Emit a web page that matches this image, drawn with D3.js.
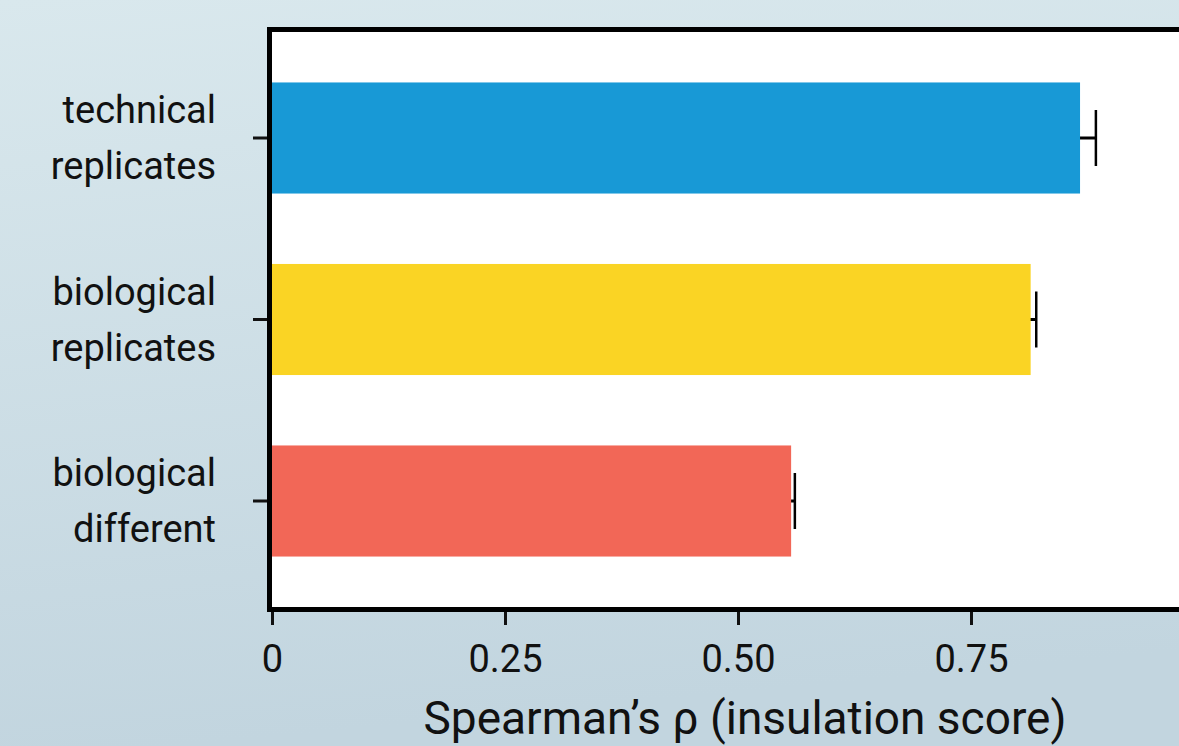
<!DOCTYPE html>
<html>
<head>
<meta charset="utf-8">
<script src="https://cdn.jsdelivr.net/npm/d3@7"></script>
<style>
  html, body { margin: 0; padding: 0; overflow: hidden; }
  svg { display: block; font-family: Roboto, "Noto Sans", sans-serif; }
</style>
</head>
<body>
<svg id="chart" width="1179" height="746"></svg>
<script>
// Correlation of insulation scores between sample pairs
const categories = [
  ["technical", "replicates"],
  ["biological", "replicates"],
  ["biological", "different"]
];
const means = [0.867, 0.814, 0.557];
const errors = [0.017, 0.006, 0.004];
const barColors = ["#1899d6", "#fad424", "#f26757"];
const tickValues = [0, 0.25, 0.5, 0.75, 1];
const tickLabels = ["0", "0.25", "0.50", "0.75", "1"];
const axisTitle = "Spearman\u2019s \u03c1 (insulation score)";

const W = 1179, H = 746;
const svg = d3.select("#chart");

// page background
const defs = svg.append("defs");
const grad = defs.append("linearGradient")
  .attr("id", "bg").attr("x1", 0).attr("y1", 0).attr("x2", 0.15).attr("y2", 1);
grad.append("stop").attr("offset", "0%").attr("stop-color", "#d9e8ed");
grad.append("stop").attr("offset", "100%").attr("stop-color", "#c2d5df");
svg.append("rect").attr("width", W).attr("height", H).attr("fill", "url(#bg)");

const plot = { left: 272, top: 32, bottom: 607 };
const x = d3.scaleLinear().domain([0, 1]).range([plot.left, 1204]);
const keys = categories.map(c => c.join(" "));
const y = d3.scaleBand().domain(keys).range([plot.top, plot.bottom])
  .paddingInner(0.388).paddingOuter(0.278);

// plotting panel
svg.append("rect")
  .attr("x", plot.left - 2.5).attr("y", plot.top - 2.5)
  .attr("width", 1300).attr("height", plot.bottom - plot.top + 5)
  .attr("fill", "#fff").attr("stroke", "#000").attr("stroke-width", 5);

const rows = means.map((m, i) => ({ key: keys[i], m, e: errors[i], c: barColors[i] }));

// error bars (drawn under the bars)
const eb = svg.append("g");
rows.forEach(d => {
  const cy = y(d.key) + y.bandwidth() / 2;
  eb.append("line")
    .attr("x1", x(d.m - d.e)).attr("x2", x(d.m + d.e))
    .attr("y1", cy).attr("y2", cy)
    .attr("stroke", "#000").attr("stroke-width", 3);
  [d.m - d.e, d.m + d.e].forEach(v => {
    eb.append("line")
      .attr("x1", x(v)).attr("x2", x(v))
      .attr("y1", cy - 28).attr("y2", cy + 28)
      .attr("stroke", "#000").attr("stroke-width", 2.5);
  });
});

// bars
svg.append("g").selectAll("rect").data(rows).join("rect")
  .attr("x", x(0))
  .attr("y", d => y(d.key))
  .attr("width", d => x(d.m) - x(0))
  .attr("height", y.bandwidth())
  .attr("fill", d => d.c);

// x axis
const xAxis = d3.axisBottom(x).tickValues(tickValues)
  .tickFormat((d, i) => tickLabels[i]).tickSize(13).tickPadding(20);
const gx = svg.append("g").attr("transform", `translate(0,${plot.bottom + 5})`).call(xAxis);
gx.select(".domain").remove();
gx.selectAll(".tick line").attr("stroke", "#111").attr("stroke-width", 3);
gx.selectAll(".tick text").attr("fill", "#111").style("font-size", "38px")
  .style("font-family", "Roboto");

// y axis
const yAxis = d3.axisLeft(y).tickSize(14).tickFormat("");
const gy = svg.append("g").attr("transform", `translate(${plot.left - 5},0)`).call(yAxis);
gy.select(".domain").remove();
gy.selectAll(".tick line").attr("stroke", "#111").attr("stroke-width", 3);

// category labels
const lab = svg.append("g");
categories.forEach((lines, i) => {
  const cy = y(keys[i]) + y.bandwidth() / 2;
  const t = lab.append("text")
    .attr("text-anchor", "end")
    .attr("fill", "#111")
    .style("font-size", "38px");
  lines.forEach((s, j) => {
    t.append("tspan").attr("x", 216).attr("y", cy + (j === 0 ? -15 : 41)).text(s);
  });
});

// axis title
svg.append("text")
  .attr("x", 745).attr("y", 734)
  .attr("text-anchor", "middle")
  .attr("fill", "#111")
  .style("font-size", "46px")
  .text(axisTitle);
</script>
</body>
</html>
